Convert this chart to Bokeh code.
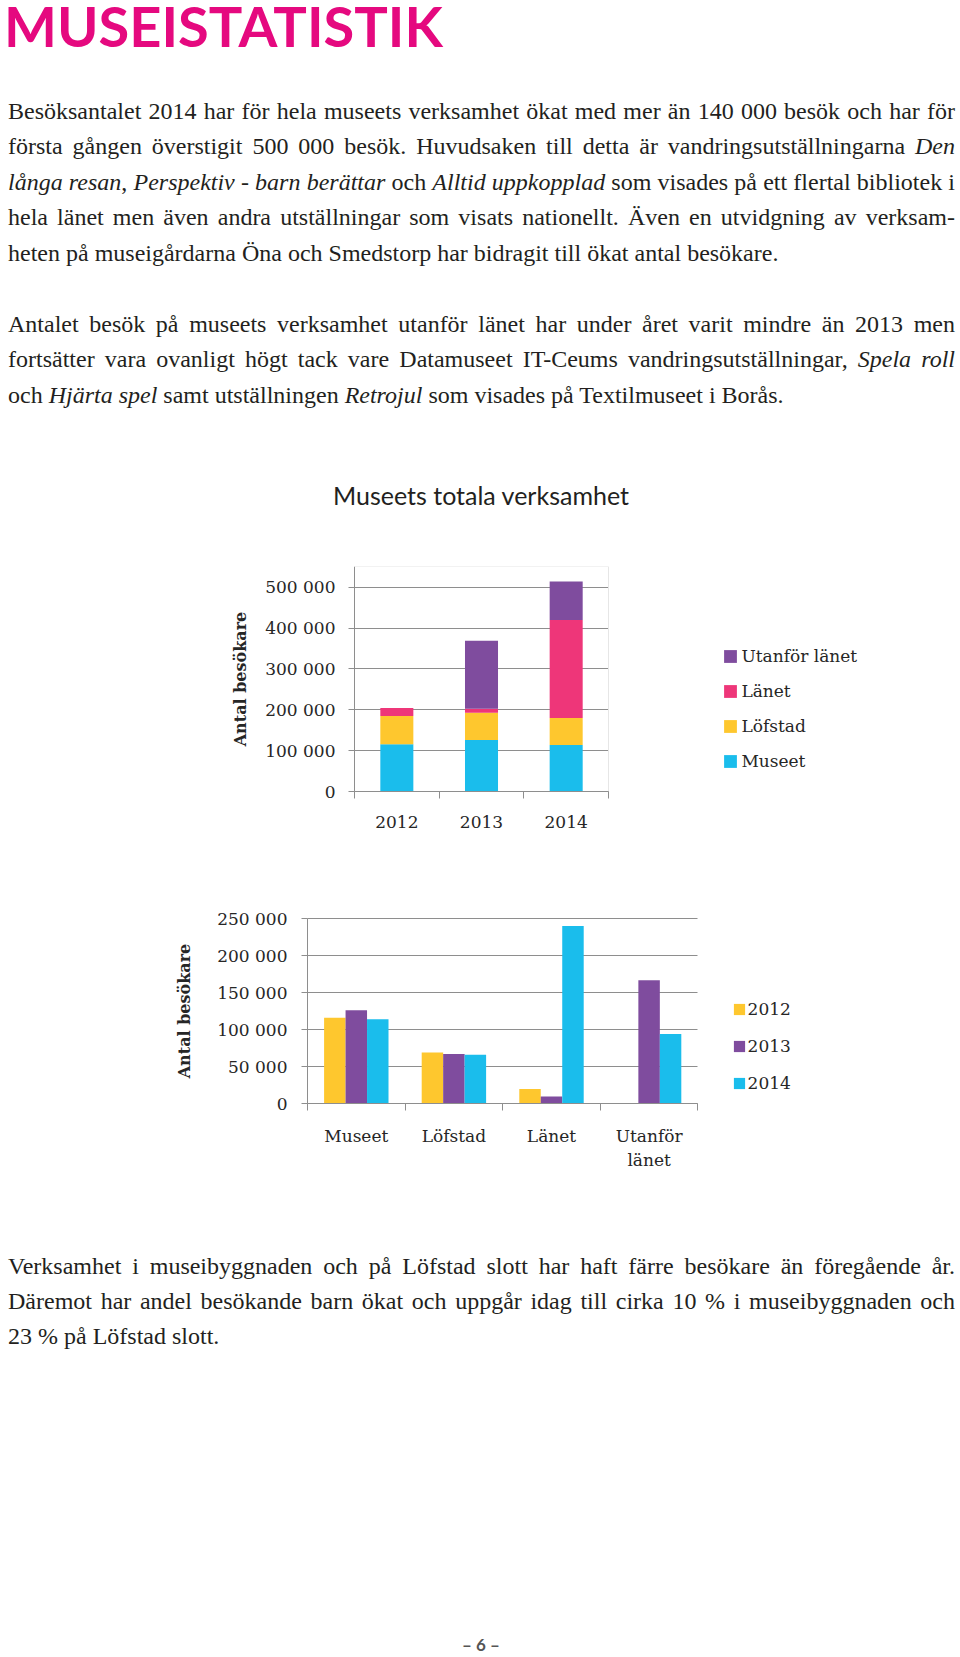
from bokeh.plotting import figure
from bokeh.models import ColumnDataSource, Div, FixedTicker, Legend, LegendItem
from bokeh.layouts import column
from bokeh.transform import dodge
from bokeh.embed import file_html
from bokeh.resources import INLINE

# ---------------- data ----------------
years = ["2012", "2013", "2014"]
categories = ["Museet", "Löfstad", "Länet", "Utanför\nlänet"]
series_names = ["Museet", "Löfstad", "Länet", "Utanför länet"]
museet = [116000, 126000, 114000]
lofstad = [69000, 67000, 66000]
lanet = [19500, 9500, 240000]
utanfor = [0, 166500, 94000]
yticks1 = [0, 100000, 200000, 300000, 400000, 500000]
yticks2 = [0, 50000, 100000, 150000, 200000, 250000]
ymax1, ymax2 = 551000, 250000

series_colors = ["#1ABDEC", "#FEC72E", "#EE3679", "#7F4C9E"]
year_colors = ["#FEC72E", "#7F4C9E", "#1ABDEC"]

TXT = "#231f20"
AX = "#8e8e8e"
LBL = "#262626"
CF = "DejaVu Serif"

# ---------------- page geometry (px) ----------------
FRAME_L, FRAME_R = 150, 900        # shared frame for both charts; axes are fixed inside
# chart 1
C1_TOP, C1_AXIS_X, C1_UNIT = 530, 354, 84.67
C1_Y0, C1_YMAX = 791, 566          # pixel of value 0 and of ymax1
C1_FB, C1_BB = 840, 50             # frame bottom, bottom border
# chart 2
C2_TOP, C2_AXIS_X, C2_UNIT = C1_FB + C1_BB, 307, 97.6
C2_Y0, C2_YMAX = 1103, 918
C2_FB, C2_BB = 1175, 70
B_TOP = C2_FB + C2_BB


def fmt(v):
    return f"{v:,}".replace(",", " ")


# ---------------- text block A ----------------
def line(html, top, justify=True, left=8, width=947):
    ta = "justify" if justify else "left"
    return (f'<div style="position:absolute;left:{left}px;width:{width}px;top:{top}px;'
            f'height:36px;line-height:36px;text-align:{ta};text-align-last:{ta};">{html}</div>')


p1_lines = [
    "Besöksantalet 2014 har för hela museets verksamhet ökat med mer än 140 000 besök och har för",
    "första gången överstigit 500 000 besök. Huvudsaken till detta är vandringsutställningarna <i>Den</i>",
    "<i>långa resan</i>, <i>Perspektiv - barn berättar</i> och <i>Alltid uppkopplad</i> som visades på ett flertal bibliotek i",
    "hela länet men även andra utställningar som visats nationellt. Även en utvidgning av verksam-",
    "heten på museigårdarna Öna och Smedstorp har bidragit till ökat antal besökare.",
]
p2_lines = [
    "Antalet besök på museets verksamhet utanför länet har under året varit mindre än 2013 men",
    "fortsätter vara ovanligt högt tack vare Datamuseet IT-Ceums vandringsutställningar, <i>Spela roll</i>",
    "och <i>Hjärta spel</i> samt utställningen <i>Retrojul</i> som visades på Textilmuseet i Borås.",
]
p3_lines = [
    "Verksamhet i museibyggnaden och på Löfstad slott har haft färre besökare än föregående år.",
    "Däremot har andel besökande barn ökat och uppgår idag till cirka 10 % i museibyggnaden och",
    "23 % på Löfstad slott.",
]

FS = 24
OFF = 26
htmlA = [f'<div style="position:relative;width:960px;height:{C1_TOP}px;font-family:\'Liberation Serif\';'
         f'font-size:{FS}px;color:{TXT};">']
htmlA.append('<div style="position:absolute;left:4px;top:0px;height:52px;line-height:52px;'
             'font-family:Lato;font-weight:700;font-size:56px;color:#E5097F;white-space:nowrap;">'
             'MUSEISTATISTIK</div>')
b = [119, 154.4, 189.8, 225.2, 260.6]
for i, t in enumerate(p1_lines):
    htmlA.append(line(t, b[i] - OFF, justify=(i < len(p1_lines) - 1)))
b = [332, 367.4, 402.8]
for i, t in enumerate(p2_lines):
    htmlA.append(line(t, b[i] - OFF, justify=(i < len(p2_lines) - 1)))
htmlA.append('<div style="position:absolute;left:231px;width:500px;top:480px;height:30px;line-height:30px;'
             'text-align:center;font-family:Lato;font-size:25px;color:#231f20;white-space:nowrap;">'
             'Museets totala verksamhet</div>')
htmlA.append('</div>')
divA = Div(text="".join(htmlA), width=960, height=C1_TOP, margin=(0, 0, 0, 0))

# ---------------- chart 1: stacked ----------------
n1 = len(years)
px1 = (C1_Y0 - C1_YMAX) / ymax1
p1 = figure(width=960, height=C1_FB + C1_BB - C1_TOP,
            x_range=(-(C1_AXIS_X - FRAME_L) / C1_UNIT, (FRAME_R - C1_AXIS_X) / C1_UNIT),
            y_range=(-(C1_FB - C1_Y0) / px1, ymax1),
            output_backend="svg", toolbar_location=None,
            min_border_left=FRAME_L, min_border_right=960 - FRAME_R,
            min_border_top=C1_YMAX - C1_TOP, min_border_bottom=C1_BB)
src1 = ColumnDataSource(dict(x=[i + 0.5 for i in range(n1)],
                             museet=museet, lofstad=lofstad, lanet=lanet, utanfor=utanfor))
keys = ["museet", "lofstad", "lanet", "utanfor"]
rs = p1.vbar_stack(keys, x="x", width=0.39, color=series_colors, line_color=None, source=src1)
# faint plot-area border (top and right) as in the original
p1.segment(x0=[0, n1], y0=[ymax1, 0], x1=[n1, n1], y1=[ymax1, ymax1], line_color="#e6e6e6", line_width=1)

p1.yaxis.ticker = FixedTicker(ticks=yticks1)
p1.ygrid.ticker = FixedTicker(ticks=yticks1)
p1.ygrid.cross_bounds = (0, n1)
p1.yaxis.bounds = (0, ymax1)
p1.yaxis.major_label_overrides = {t: fmt(t) for t in yticks1}
p1.xaxis.ticker = FixedTicker(ticks=[i + 0.5 for i in range(n1)], minor_ticks=list(range(n1 + 1)))
p1.xaxis.bounds = (0, n1)
p1.xaxis.major_label_overrides = {i + 0.5: y for i, y in enumerate(years)}
p1.yaxis.axis_label = "Antal besökare"
p1.yaxis.axis_label_standoff = 12
p1.yaxis.major_label_standoff = 13
p1.xaxis.major_label_standoff = 17
leg1 = Legend(items=[LegendItem(label=n, renderers=[r]) for n, r in reversed(list(zip(series_names, rs)))],
              location=(722.4 - FRAME_L, 20 + (C1_FB - C1_Y0)), padding=0, spacing=15,
              glyph_width=16, glyph_height=16, label_standoff=3, margin=0)
p1.add_layout(leg1)

# ---------------- chart 2: grouped ----------------
n2 = len(categories)
px2 = (C2_Y0 - C2_YMAX) / ymax2
by_year = [[museet[j], lofstad[j], lanet[j], utanfor[j]] for j in range(len(years))]
p2 = figure(width=960, height=C2_FB + C2_BB - C2_TOP,
            x_range=(-(C2_AXIS_X - FRAME_L) / C2_UNIT, (FRAME_R - C2_AXIS_X) / C2_UNIT),
            y_range=(-(C2_FB - C2_Y0) / px2, ymax2 + (C2_YMAX - C2_TOP) / px2),
            output_backend="svg", toolbar_location=None,
            min_border_left=FRAME_L, min_border_right=960 - FRAME_R,
            min_border_top=0, min_border_bottom=C2_BB)
d2 = {"x": [i + 0.5 for i in range(n2)]}
for j, y in enumerate(years):
    d2["y" + y] = by_year[j]
src2 = ColumnDataSource(d2)
items2 = []
for j, y in enumerate(years):
    r = p2.vbar(x=dodge("x", (j - 1) * 0.22, range=p2.x_range), top="y" + y, width=0.22,
                color=year_colors[j], line_color=None, source=src2)
    items2.append(LegendItem(label=y, renderers=[r]))
p2.yaxis.ticker = FixedTicker(ticks=yticks2)
p2.ygrid.ticker = FixedTicker(ticks=yticks2)
p2.ygrid.cross_bounds = (0, n2)
p2.yaxis.bounds = (0, ymax2)
p2.yaxis.major_label_overrides = {t: fmt(t) for t in yticks2}
p2.xaxis.ticker = FixedTicker(ticks=[i + 0.5 for i in range(n2)], minor_ticks=list(range(n2 + 1)))
p2.xaxis.bounds = (0, n2)
p2.xaxis.major_label_overrides = {i + 0.5: c for i, c in enumerate(categories)}
p2.yaxis.axis_label = "Antal besökare"
p2.yaxis.axis_label_standoff = 20
p2.yaxis.major_label_standoff = 14
p2.xaxis.major_label_standoff = 15
leg2 = Legend(items=items2, location=(731.6 - FRAME_L, 10 + (C2_FB - C2_Y0)), padding=0, spacing=17,
              glyph_width=14, glyph_height=14, label_standoff=2, margin=0)
p2.add_layout(leg2)

for p in (p1, p2):
    p.yaxis.fixed_location = 0
    p.xaxis.fixed_location = 0
    p.outline_line_color = None
    p.xgrid.visible = False
    p.ygrid.grid_line_color = AX
    p.ygrid.grid_line_width = 1
    for ax in (p.xaxis[0], p.yaxis[0]):
        ax.axis_line_color = AX
        ax.major_label_text_font = CF
        ax.major_label_text_font_size = "17px"
        ax.major_label_text_color = LBL
        ax.minor_tick_line_color = None
    p.yaxis.major_tick_line_color = AX
    p.yaxis.major_tick_out = 6
    p.yaxis.major_tick_in = 0
    p.xaxis.major_tick_line_color = None
    p.xaxis.major_tick_out = 0
    p.xaxis.major_tick_in = 0
    p.xaxis.minor_tick_line_color = AX
    p.xaxis.minor_tick_out = 7
    p.xaxis.minor_tick_in = 0
    p.yaxis.axis_label_text_font = CF
    p.yaxis.axis_label_text_font_style = "bold"
    p.yaxis.axis_label_text_font_size = "16px"
    p.yaxis.axis_label_text_color = LBL
    lg = p.legend[0]
    lg.label_text_font = CF
    lg.label_text_font_size = "17px"
    lg.label_text_color = LBL
    lg.background_fill_alpha = 0
    lg.border_line_color = None
    lg.label_height = 20

# ---------------- text block B ----------------
B_H = 1657 - B_TOP
htmlB = [f'<div style="position:relative;width:960px;height:{B_H}px;font-family:\'Liberation Serif\';'
         f'font-size:{FS}px;color:{TXT};">']
b = [1274, 1309, 1344]
for i, t in enumerate(p3_lines):
    htmlB.append(line(t, b[i] - B_TOP - OFF, justify=(i < len(p3_lines) - 1)))
htmlB.append(f'<div style="position:absolute;left:381px;width:200px;top:{1635.4 - B_TOP}px;height:20px;'
             'line-height:20px;text-align:center;font-family:Lato;font-weight:700;font-size:17px;color:#555555;">'
             '– 6 –</div>')
htmlB.append('</div>')
divB = Div(text="".join(htmlB), width=960, height=B_H, margin=(0, 0, 0, 0))

layout = column(divA, p1, p2, divB, spacing=0)
open("out.html", "w").write(file_html(layout, INLINE))
